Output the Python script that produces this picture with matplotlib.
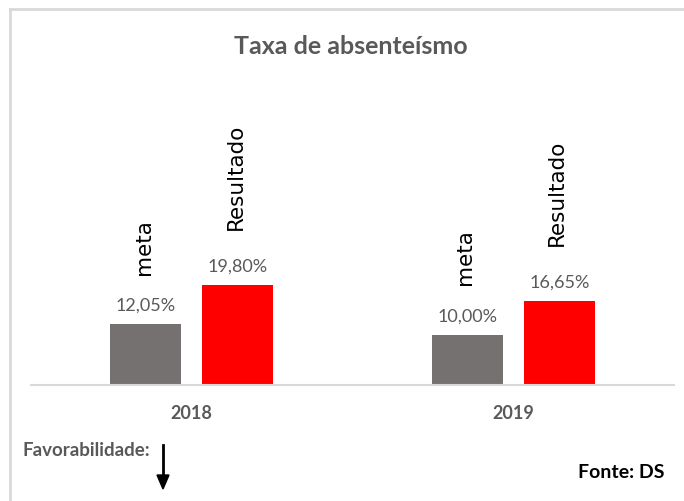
import matplotlib.pyplot as plt
import numpy as np

anos = ['2018', '2019']
meta = [12.05, 10.00]
resultado = [19.80, 16.65]
rotulos_meta = ['12,05%', '10,00%']
rotulos_res = ['19,80%', '16,65%']

plt.rcParams['font.family'] = ['Lato', 'DejaVu Sans']

fig = plt.figure(figsize=(6.84, 5.02), dpi=100)
W, H = 684, 502
# axes: x 31..674 px, baseline y=386, top y=86
ax = fig.add_axes([31/W, 1-386/H, (674-31)/W, 300/H])
x = np.arange(len(anos))
w = 0.221
off = 0.143
b1 = ax.bar(x-off, meta, w, color='#767171')
b2 = ax.bar(x+off, resultado, w, color='#ff0000')
ax.set_xlim(-0.5, 1.5)
ax.set_ylim(0, 300/5.05)
for s in ['top', 'right', 'left']:
    ax.spines[s].set_visible(False)
ax.spines['bottom'].set_color('#d9d9d9')
ax.spines['bottom'].set_linewidth(1.5)
ax.set_yticks([])
ax.set_xticks(x)
ax.set_xticklabels(anos, fontsize=13, fontweight='bold', color='#595959')
ax.tick_params(axis='x', length=0, pad=14)

for bars, labs, nome, dy in [(b1, rotulos_meta, 'meta', 36), (b2, rotulos_res, 'Resultado', 40.5)]:
    for r, lab in zip(bars, labs):
        cx = r.get_x()+r.get_width()/2
        h = r.get_height()
        ax.annotate(lab, (cx, h), xytext=(0, 8), textcoords='offset points',
                    ha='center', va='bottom', fontsize=13, color='#595959')
        ax.annotate(nome, (cx, h), xytext=(-1.5, dy), textcoords='offset points',
                    ha='center', va='bottom', rotation=90, fontsize=15.5,
                    color='black', family='DejaVu Sans')

fig.text(351/W, 1-47/H, 'Taxa de absenteísmo', ha='center', va='center',
         fontsize=18, fontweight='bold', color='#595959')
fig.text(22/W, 1-451/H, 'Favorabilidade:', ha='left', va='center',
         fontsize=13.5, fontweight='bold', color='#595959')
fig.text(665/W, 1-473/H, 'Fonte: DS', ha='right', va='center',
         fontsize=14, fontweight='bold', color='black')
fig.add_artist(plt.Line2D([9.5/W, 9.5/W], [0, 1-10/H], color='#d9d9d9', lw=2))
fig.add_artist(plt.Line2D([9.5/W, 1], [1-10/H, 1-10/H], color='#d9d9d9', lw=2))
fig.add_artist(plt.Line2D([163/W, 163/W], [1-446/H, 1-478/H], color='black', lw=2))
fig.patches.append(plt.Polygon([[157/W, 1-476/H], [169/W, 1-476/H], [163/W, 1-490/H]],
                               closed=True, color='black', transform=fig.transFigure))

fig.savefig('out.png', dpi=100)
